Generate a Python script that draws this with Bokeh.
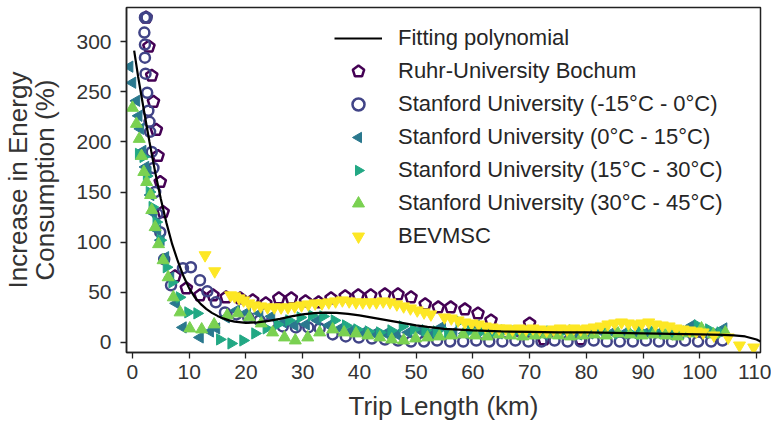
import math
from bokeh.plotting import figure
from bokeh.models import Range1d, Legend, LegendItem, FixedTicker, Scatter, CustomJS
from bokeh.embed import file_html
from bokeh.resources import INLINE

# ---------------- data ----------------
x_ticks = [0, 10, 20, 30, 40, 50, 60, 70, 80, 90, 100, 110]
y_ticks = [0, 50, 100, 150, 200, 250, 300]

# Fitting polynomial
fit_x = [0.3, 1, 2, 3, 4, 5, 6, 7, 8, 9, 10, 11, 12, 13, 14, 15, 16, 17, 18, 20,
         22, 24, 26, 28, 30, 32, 34, 36, 38, 40, 42, 44, 46, 48, 50, 52, 55, 60,
         65, 70, 75, 80, 85, 90, 95, 100, 104, 106, 108, 110, 110.7]
fit_y = [291, 265, 232, 200, 170, 143, 119, 98, 81, 66, 54, 45, 38.5, 33.5, 29.5,
         26.5, 24, 22, 20.8, 19.5, 20, 21.5, 23.5, 26, 28, 29.2, 29.8, 29.5, 28.5,
         27, 25, 23, 21, 19, 17, 15.5, 13.5, 12, 11, 10.5, 10, 10, 9.5, 9, 8.5, 8,
         7.5, 7, 6, 3, 1]

# Ruhr-University Bochum
ruhr_x = [2.4, 2.9, 3.4, 3.7, 4.2, 4.5, 4.9, 5.4, 7.5, 9.5,
          11.9, 14.2, 16.5, 19.0, 21.2, 23.5, 25.8, 28.0, 30.5, 32.8,
          35.0, 37.5, 39.8, 42.0, 44.5, 46.8, 49.1, 51.6, 53.9, 56.1,
          58.6, 60.9, 63.2, 70.0, 72.5, 79.0]
ruhr_y = [324, 295, 266, 240, 212, 186, 160, 130, 66, 54,
          47, 47, 45, 44, 42, 39, 44, 44, 41, 40,
          44, 46, 47, 47, 48, 48, 45, 38, 35, 35,
          33, 29, 22, 19, 3, 3]

# Stanford University (-15°C - 0°C)
s1_x = [2.2, 2.5, 2.1, 2.2, 2.2, 2.3, 2.6, 2.8, 3.0, 3.1,
        3.4, 3.7, 4.0, 4.4, 4.9, 5.6, 6.8, 8.9, 10.3, 11.9,
        13.2, 14.7, 16.3, 18.3, 20.4, 22.4, 24.2, 26.5, 28.8, 31.0,
        33.0, 35.3, 37.6, 39.9, 42.2, 44.5, 46.8, 49.1, 51.4, 53.7,
        56.0, 58.3, 60.6, 62.9, 65.2, 67.5, 69.8, 72.1, 74.4, 76.7,
        79.0, 81.3, 83.6, 85.9, 88.2, 90.5, 92.8, 95.1, 97.4, 99.7,
        102.0, 104.0]
s1_y = [324, 324, 309, 297, 284, 268, 249, 231, 220, 210,
        190, 174, 150, 128, 110, 83, 57, 74, 75, 62,
        51, 40, 30, 28, 25, 22, 19, 16, 15, 15,
        14, 8, 6, 5, 4, 3, 2, 1, 1, 2,
        1, 1, 2, 1, 1, 2, 1, 1, 2, 1,
        1, 2, 1, 1, 1, 2, 1, 1, 2, 1,
        1, 2]

# Stanford University (0°C - 15°C)
s2_x = [-0.5, 0.0, 0.7, 1.1, 1.4, 1.8, 2.3, 2.7, 3.2, 3.7,
        4.4, 5.0, 5.8, 6.7, 7.7, 8.9, 11.9, 13.7, 14.8, 16.5,
        18.3, 20.2, 22.4, 24.5, 26.6, 28.6, 30.6, 32.6, 34.6, 36.6,
        38.6, 40.6, 42.6, 44.6, 46.6, 48.6, 50.6, 52.6, 54.6, 56.6,
        58.6, 60.6, 62.6, 64.6, 66.6, 68.6, 70.6, 72.6, 74.6, 76.6,
        78.6, 80.6, 82.6, 84.6, 86.6, 88.6, 90.6, 92.6, 94.6, 96.6,
        98.6, 100.6, 102.6, 104.2]
s2_y = [275, 259, 241, 226, 213, 191, 175, 170, 147, 129,
        112, 102, 85, 65, 39, 15, 5, 11, 14, 25,
        32, 30, 29, 26, 20, 17, 18, 22, 17, 14,
        12, 10, 9, 9, 8, 10, 12, 9, 16, 10,
        9, 17, 10, 9, 11, 9, 10, 8, 9, 10,
        8, 9, 11, 10, 9, 8, 10, 9, 8, 9,
        17, 10, 9, 14]

# Stanford University (15°C - 30°C)
s3_x = [1.1, 1.9, 2.5, 3.0, 3.5, 4.2, 4.9, 6.0, 7.0, 8.3,
        9.8, 11.4, 15.4, 17.4, 19.5, 21.6, 23.6, 25.6, 27.6, 29.6,
        31.6, 33.6, 35.6, 37.6, 39.6, 41.6, 43.6, 45.6, 47.6, 49.6,
        51.6, 53.6, 55.6, 57.6, 59.6, 61.6, 63.6, 65.6, 67.6, 69.6,
        71.6, 73.6, 75.6, 77.6, 79.6, 81.6, 83.6, 85.6, 87.6, 89.6,
        91.6, 93.6, 95.6, 97.6, 99.6, 101.6, 103.6]
s3_y = [188, 185, 166, 150, 135, 120, 102, 75, 60, 45,
        30, 29, 3, -1, 2, 9, 14, 18, 22, 25,
        27, 26, 22, 17, 13, 11, 10, 12, 16, 13,
        12, 11, 10, 21, 12, 11, 10, 12, 11, 10,
        9, 11, 10, 12, 10, 11, 10, 9, 10, 11,
        12, 10, 9, 11, 17, 13, 10]

# Stanford University (30°C - 45°C)
s4_x = [0.0, 0.7, 1.2, 1.6, 2.0, 2.5, 3.2, 3.4, 4.0, 4.6,
        5.4, 6.3, 7.2, 8.4, 10.1, 12.2, 14.4, 16.7, 18.6, 20.6,
        22.7, 24.7, 26.8, 28.7, 30.9, 33.0, 35.3, 37.3, 39.4, 41.5,
        43.6, 45.7, 47.8, 49.9, 52.0, 54.1, 56.2, 58.3, 60.4, 62.5,
        64.6, 66.7, 68.8, 70.9, 73.0, 75.1, 77.2, 79.3, 81.4, 83.5,
        85.6, 87.7, 89.8, 91.9, 94.0, 96.1, 98.2, 100.3, 102.4, 104.5]
s4_y = [234, 218, 203, 186, 170, 160, 147, 132, 115, 98,
        82, 65, 45, 30, 14, 13, 18, 27, 29, 25,
        19, 10, 5, 2, 5, 10, 13, 10, 9, 7,
        5, 3, 2, 4, 5, 6, 7, 8, 7, 6,
        8, 7, 6, 7, 8, 7, 6, 7, 8, 7,
        9, 8, 7, 8, 7, 6, 9, 14, 8, 10]

# BEVMSC
bev_x = [12.8, 14.5, 17.3, 18.0, 18.8, 19.6, 20.5, 21.5, 22.6, 23.8,
         25.0, 26.2, 27.4, 28.6, 29.8, 31.0, 32.2, 33.4, 34.6, 35.8,
         37.0, 38.2, 39.4, 40.6, 41.8, 43.0, 44.2, 45.4, 46.6, 47.8,
         49.0, 50.2, 51.4, 52.6, 55.0, 56.2, 57.4, 58.6, 59.8, 61.0,
         62.2, 63.4, 64.6, 65.8, 67.0, 68.2, 69.4, 70.6, 71.8, 73.0,
         74.2, 75.4, 76.6, 77.8, 79.0, 80.2, 81.4, 82.6, 83.8, 85.0,
         86.2, 87.4, 88.6, 89.8, 91.0, 92.2, 93.4, 94.6, 95.8, 97.0,
         98.2, 99.4, 100.6, 102.5, 105.0, 107.0, 109.5]
bev_y = [87, 71, 47, 46, 44, 42, 39, 37, 36, 35,
         35, 35, 35, 36, 37, 38, 39, 39, 40, 41,
         42, 41, 40, 40, 40, 40, 41, 40, 38, 36,
         34, 32, 30, 28, 25, 24, 22, 20, 19, 18,
         16, 15, 14, 14, 13, 14, 13, 14, 13, 12,
         13, 14, 13, 14, 13, 14, 15, 16, 18, 19,
         20, 19, 18, 19, 20, 18, 17, 16, 14, 13,
         12, 11, 10, 7, 5, -3, -5]

labels = ["Fitting polynomial", "Ruhr-University Bochum",
          "Stanford University (-15°C - 0°C)", "Stanford University (0°C - 15°C)",
          "Stanford University (15°C - 30°C)", "Stanford University (30°C - 45°C)",
          "BEVMSC"]
colors = ["#440154", "#414487", "#2a788e", "#22a884", "#7ad151", "#fde725"]

# ---------------- custom marker shapes (drawn in screen space) ----------------
JS_PENTAGON = """
export default (args, obj, {ctx, i, r, visuals}) => {
  for (let k = 0; k < 5; k++) {
    const a = -Math.PI/2 + k*2*Math.PI/5
    const px = r*Math.cos(a), py = r*Math.sin(a)
    if (k == 0) ctx.moveTo(px, py); else ctx.lineTo(px, py)
  }
  ctx.closePath()
  visuals.fill.apply(ctx, i)
  visuals.hatch.apply(ctx, i)
  visuals.line.apply(ctx, i)
}
"""
JS_LEFT = """
export default (args, obj, {ctx, i, r, visuals}) => {
  const h = r*Math.sqrt(3)/2
  ctx.moveTo(-r, 0)
  ctx.lineTo(r/2, -h)
  ctx.lineTo(r/2, h)
  ctx.closePath()
  visuals.fill.apply(ctx, i)
  visuals.hatch.apply(ctx, i)
  visuals.line.apply(ctx, i)
}
"""
JS_RIGHT = """
export default (args, obj, {ctx, i, r, visuals}) => {
  const h = r*Math.sqrt(3)/2
  ctx.moveTo(r, 0)
  ctx.lineTo(-r/2, -h)
  ctx.lineTo(-r/2, h)
  ctx.closePath()
  visuals.fill.apply(ctx, i)
  visuals.hatch.apply(ctx, i)
  visuals.line.apply(ctx, i)
}
"""
HAS_DEFS = "defs" in Scatter.properties()

# ---------------- figure ----------------
FONT = "Liberation Sans"
TXT = "#333333"

p = figure(width=771, height=424, output_backend="svg", toolbar_location=None,
           x_range=Range1d(-1.05, 110.7), y_range=Range1d(-10, 334),
           min_border_left=123, min_border_right=11, min_border_top=7,
           min_border_bottom=72)
p.xgrid.visible = False
p.ygrid.visible = False
p.outline_line_color = "#222222"
p.outline_line_width = 1.5
p.outline_line_alpha = 1.0

for ax, ticks in ((p.xaxis, x_ticks), (p.yaxis, y_ticks)):
    ax.ticker = FixedTicker(ticks=ticks)
    ax.major_tick_out = 6
    ax.major_tick_in = 0
    ax.minor_tick_line_color = None
    ax.major_tick_line_color = "#222222"
    ax.major_tick_line_width = 1.3
    ax.axis_line_color = "#222222"
    ax.axis_line_width = 1.5
    ax.major_label_text_font = FONT
    ax.major_label_text_font_size = "21px"
    ax.major_label_text_color = TXT
    ax.axis_label_text_font = FONT
    ax.axis_label_text_font_size = "26px"
    ax.axis_label_text_font_style = "normal"
    ax.axis_label_text_color = TXT

p.xaxis.axis_label = "Trip Length (km)"
p.yaxis.axis_label = "Increase in Energy\nConsumption (%)"
p.yaxis.axis_label_text_line_height = 0.9
p.xaxis.major_label_standoff = 6
p.xaxis.axis_label_standoff = 9
p.yaxis.major_label_standoff = 9
p.yaxis.axis_label_standoff = 13


def add_scatter(xs, ys, custom_js, fallback, angle, **kw):
    if HAS_DEFS and custom_js is not None:
        try:
            name = "@m%d" % len(p.renderers)
            return p.scatter(xs, ys, marker=name, defs={name: CustomJS(code=custom_js)}, **kw)
        except Exception:
            pass
    return p.scatter(xs, ys, marker=fallback, angle=angle, **kw)


r_ruhr = add_scatter(ruhr_x, ruhr_y, JS_PENTAGON, "hex", math.pi / 6, size=12,
                     fill_color=None, line_color=colors[0], line_width=2.5)
r_s1 = p.scatter(s1_x, s1_y, marker="circle", size=10, fill_color=None,
                 line_color=colors[1], line_width=2.5)
r_s2 = add_scatter(s2_x, s2_y, JS_LEFT, "triangle", math.pi / 2, size=13,
                   fill_color=colors[2], line_color=colors[2], line_width=1)
r_s3 = add_scatter(s3_x, s3_y, JS_RIGHT, "triangle", -math.pi / 2, size=13,
                   fill_color=colors[3], line_color=colors[3], line_width=1)
r_s4 = p.scatter(s4_x, s4_y, marker="triangle", size=12,
                 fill_color=colors[4], line_color=colors[4], line_width=1)
r_bev = p.scatter(bev_x, bev_y, marker="inverted_triangle", size=12,
                  fill_color=colors[5], line_color=colors[5], line_width=1)
r_fit = p.line(fit_x, fit_y, line_color="black", line_width=2.2)

rends = [r_fit, r_ruhr, r_s1, r_s2, r_s3, r_s4, r_bev]
legend = Legend(items=[LegendItem(label=l, renderers=[r]) for l, r in zip(labels, rends)],
                location="top_right")
legend.border_line_alpha = 0
legend.background_fill_alpha = 0
legend.label_text_font = FONT
legend.label_text_font_size = "22px"
legend.label_text_color = "#262626"
legend.glyph_width = 48
legend.glyph_height = 30
legend.label_height = 30
legend.label_width = 346
legend.label_standoff = 16
legend.spacing = 3
legend.padding = 4
legend.margin = 12
p.add_layout(legend)

open("out.html", "w").write(file_html(p, INLINE))
